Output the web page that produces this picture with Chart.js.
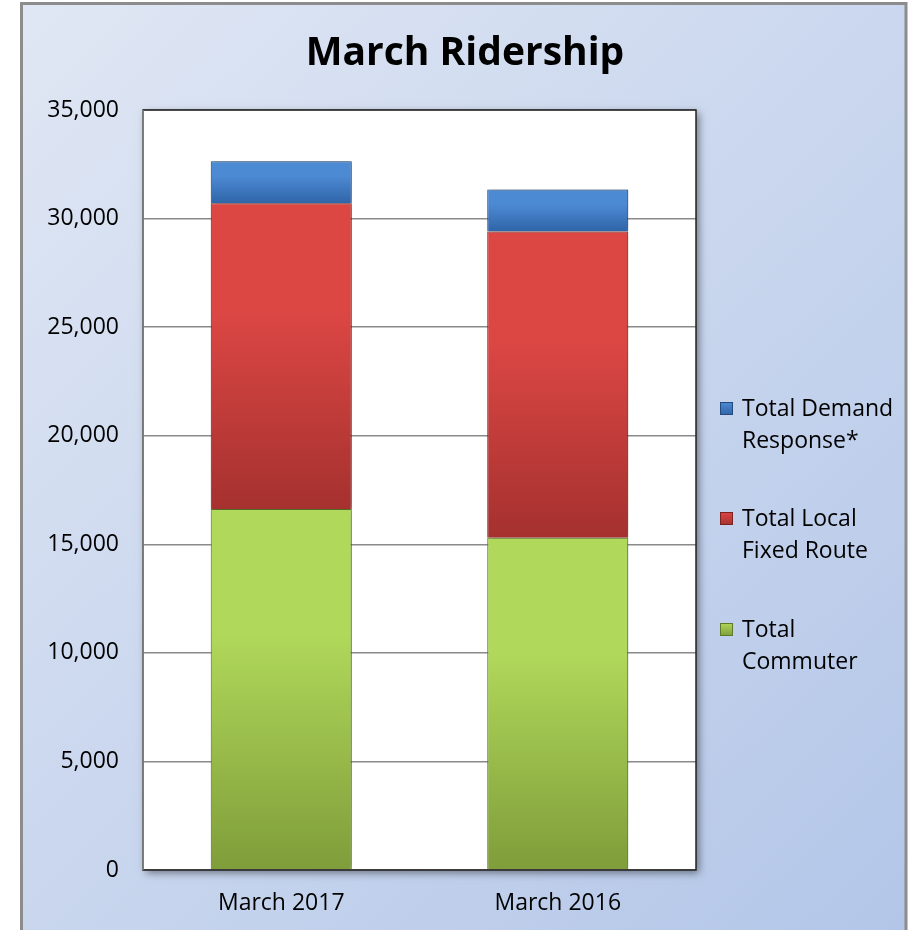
<!DOCTYPE html>
<html lang="en">
<head>
  <meta charset="UTF-8">
  <title>March Ridership</title>
  <script src="https://cdn.jsdelivr.net/npm/chart.js@4.4.1/dist/chart.umd.min.js"></script>
  <style>
    html, body { margin: 0; padding: 0; background: #fff; }
    #wrap { width: 915px; height: 930px; }
  </style>
</head>
<body>
<div id="wrap"><canvas id="myChart" width="915" height="930"></canvas></div>

<script>
// data
const categories = ['March 2017', 'March 2016'];
const commuter = [16620, 15300];
const localFixedRoute = [14080, 14110];
const demandResponse = [1940, 1930];
const legendLines = [
  ['Total Demand', 'Response*'],
  ['Total Local', 'Fixed Route'],
  ['Total', 'Commuter']
];

const FONT = "'Open Sans', 'Liberation Sans', sans-serif";

// colours: [light top, dark bottom, edge]
const greenCols = ['#b0d85a', '#7f9d3a', '#5f7a2a'];
const redCols = ['#dc4744', '#a5312f', '#7a2220'];
const blueCols = ['#4d8ad4', '#2f64a8', '#23497d'];

// gradient for one stacked segment, from its own top to its base
function segFill(cols) {
  return (ctx) => {
    const chart = ctx.chart;
    if (!chart.chartArea || ctx.type !== 'data') return cols[0];
    const y = chart.scales.y;
    let base = 0;
    for (let i = 0; i < ctx.datasetIndex; i++) base += chart.data.datasets[i].data[ctx.dataIndex];
    const top = base + ctx.raw;
    const g = chart.ctx.createLinearGradient(0, y.getPixelForValue(top), 0, y.getPixelForValue(base));
    g.addColorStop(0, cols[0]);
    g.addColorStop(0.35, cols[0]);
    g.addColorStop(1, cols[1]);
    return g;
  };
}

// outer panel + white plot area with shadow
const panelPlugin = {
  id: 'panel',
  beforeDraw(chart) {
    const c = chart.ctx;
    const a = chart.chartArea;
    c.save();
    const bg = c.createLinearGradient(20, 0, 915, 930);
    bg.addColorStop(0, '#e0e7f4');
    bg.addColorStop(1, '#b3c6e8');
    c.fillStyle = bg;
    c.fillRect(20, 2, 887, 930);
    c.strokeStyle = '#8c8c8c';
    c.lineWidth = 3;
    c.beginPath();
    c.moveTo(21.5, 932); c.lineTo(21.5, 3.5); c.lineTo(906, 3.5); c.lineTo(906, 932);
    c.stroke();
    c.shadowColor = 'rgba(0,0,0,0.45)';
    c.shadowBlur = 8;
    c.shadowOffsetX = 3;
    c.shadowOffsetY = 3;
    c.fillStyle = '#fff';
    c.fillRect(a.left, a.top, a.right - a.left, a.bottom - a.top);
    c.restore();
  },
  beforeDatasetsDraw(chart) {
    const c = chart.ctx;
    c.save();
    c.shadowColor = 'rgba(0,0,0,0.3)';
    c.shadowBlur = 6;
    c.shadowOffsetX = 2;
    c.shadowOffsetY = 0;
  },
  afterDatasetsDraw(chart) {
    chart.ctx.restore();
  },
  afterDraw(chart) {
    const c = chart.ctx;
    const a = chart.chartArea;
    c.save();
    c.strokeStyle = '#222';
    c.lineWidth = 1.5;
    c.strokeRect(a.left, a.top, a.right - a.left, a.bottom - a.top);
    c.strokeStyle = '#888';
    c.beginPath();
    c.moveTo(a.left, a.top); c.lineTo(a.left, a.bottom);
    c.stroke();

    // title
    c.fillStyle = '#000';
    c.font = 'bold 39px ' + FONT;
    c.textAlign = 'center';
    c.textBaseline = 'middle';
    c.fillText('March Ridership', 465, 54);

    // legend, top entry first like the reference
    const order = [2, 1, 0];
    const rowY = [409, 519, 630];
    c.font = '23px ' + FONT;
    c.textAlign = 'left';
    order.forEach((di, k) => {
      const ds = chart.data.datasets[di];
      const cols = ds.legendCols;
      const bx = 720, by = rowY[k] - 7;
      const g = c.createLinearGradient(0, by, 0, by + 13);
      g.addColorStop(0, cols[0]);
      g.addColorStop(1, cols[1]);
      c.fillStyle = g;
      c.fillRect(bx, by, 13, 13);
      c.strokeStyle = cols[2];
      c.lineWidth = 1;
      c.strokeRect(bx + 0.5, by + 0.5, 12, 12);
      c.fillStyle = '#000';
      legendLines[k].forEach((line, li) => {
        c.fillText(line, 742, rowY[k] + li * 32);
      });
    });
    c.restore();
  }
};

const ctx = document.getElementById('myChart').getContext('2d');

const myChart = new Chart(ctx, {
  type: 'bar',
  data: {
    labels: categories,
    datasets: [
      {
        label: 'Total Commuter',
        data: commuter,
        backgroundColor: segFill(greenCols),
        borderColor: greenCols[2],
        borderWidth: 1,
        legendCols: greenCols
      },
      {
        label: 'Total Local Fixed Route',
        data: localFixedRoute,
        backgroundColor: segFill(redCols),
        borderColor: redCols[2],
        borderWidth: 1,
        legendCols: redCols
      },
      {
        label: 'Total Demand Response*',
        data: demandResponse,
        backgroundColor: segFill(blueCols),
        borderColor: blueCols[2],
        borderWidth: 1,
        legendCols: blueCols
      }
    ]
  },
  options: {
    responsive: false,
    animation: false,
    barPercentage: 0.51,
    categoryPercentage: 1,
    layout: {
      padding: { left: 12, right: 219, top: 110, bottom: 8 }
    },
    scales: {
      x: {
        stacked: true,
        grid: { display: false, drawTicks: false },
        border: { display: false },
        ticks: { color: '#000', font: { family: FONT, size: 23 }, padding: 20 },
        afterFit: (s) => { s.height = 52; }
      },
      y: {
        stacked: true,
        min: 0,
        max: 35000,
        grid: { color: '#8a8a8a', lineWidth: 1.5, drawTicks: false },
        border: { display: false },
        ticks: {
          stepSize: 5000,
          color: '#000',
          font: { family: FONT, size: 23 },
          padding: 24,
          callback: (v) => v.toLocaleString('en-US')
        },
        afterFit: (s) => { s.width = 131; }
      }
    },
    plugins: {
      legend: { display: false },
      title: { display: false },
      tooltip: { enabled: false }
    }
  },
  plugins: [panelPlugin]
});
</script>
</body>
</html>
